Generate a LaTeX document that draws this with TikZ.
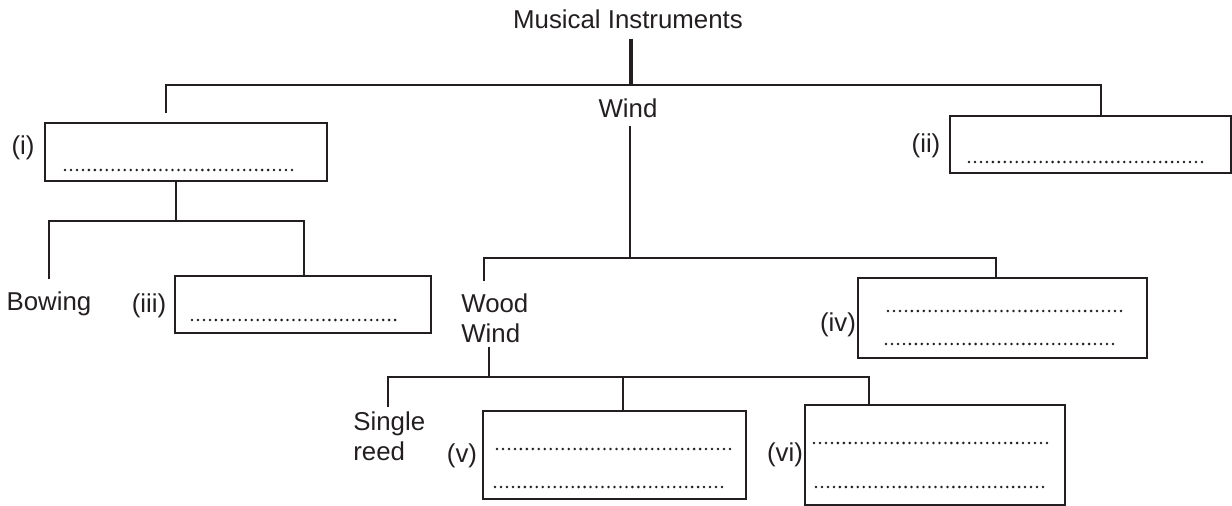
\documentclass[tikz,border=0pt]{standalone}
\usepackage{fontspec}
\setmainfont{Liberation Sans}
\usetikzlibrary{calc}
\definecolor{ink}{HTML}{231F20}
\begin{document}
\begin{tikzpicture}[x=0.02cm,y=-0.02cm,
  conn/.style={draw=ink,line width=1.2pt},
  heavy/.style={draw=ink,line width=2.8pt},
  bx/.style={draw=ink,line width=1.6pt,rectangle,inner sep=0pt,anchor=center},
  dotln/.style={draw=ink,line width=1.6pt,line cap=round,dash pattern=on 0pt off 3.4pt},
  lbl/.style={inner sep=0pt,text=ink,font=\fontsize{14.7pt}{17pt}\selectfont},
]
\useasboundingbox (0,0) rectangle (1232,506);

% boxes
\node[bx,minimum width=5.64cm,minimum height=1.16cm] (bi)   at (186,152)    {};
\node[bx,minimum width=5.62cm,minimum height=1.14cm] (bii)  at (1090.5,144.5) {};
\node[bx,minimum width=5.12cm,minimum height=1.14cm] (biii) at (303,304.5)  {};
\node[bx,minimum width=5.78cm,minimum height=1.60cm] (biv)  at (1002.5,318) {};
\node[bx,minimum width=5.26cm,minimum height=1.76cm] (bv)   at (614.5,455)  {};
\node[bx,minimum width=5.20cm,minimum height=2.00cm] (bvi)  at (935,455)    {};

% dotted answer lines
\draw[dotln] (65,170) -- (297,170);
\draw[dotln] (969,162) -- (1202,162);
\draw[dotln] (192,320) -- (396,320);
\draw[dotln] (888,311) -- (1121,311);
\draw[dotln] (886,344) -- (1118,344);
\draw[dotln] (497,449) -- (730,449);
\draw[dotln] (495,487) -- (727,487);
\draw[dotln] (814,443) -- (1047,443);
\draw[dotln] (816,487) -- (1048,487);

% labels
\node[lbl,anchor=base] (mi)   at (628,28.5)  {Musical Instruments};
\node[lbl,anchor=base] (wind) at (628,118)   {Wind};
\node[lbl,anchor=base] (li)   at (23,154.6)  {(i)};
\node[lbl,anchor=base] (lii)  at (926,152.6) {(ii)};
\node[lbl,anchor=base] (liii) at (149,313)   {(iii)};
\node[lbl,anchor=base] (liv)  at (838,331.6) {(iv)};
\node[lbl,anchor=base] (lv)   at (462,463)   {(v)};
\node[lbl,anchor=base] (lvi)  at (785,461.6) {(vi)};
\node[lbl,anchor=base] (bow)  at (49,311)    {Bowing};
\node[lbl,anchor=north west,align=left] (ww) at (461,293.4) {Wood\\Wind};
\node[lbl,anchor=north west,align=left] (sr) at (353,411.4) {Single\\reed};

% junction coordinates
\coordinate (mJ)  at (631,85);
\coordinate (tL)  at (166,85);
\coordinate (tR)  at (1101,85);
\coordinate (iJ)  at (176,221);
\coordinate (iL)  at (49,221);
\coordinate (iR)  at (304,221);
\coordinate (wJ)  at (630,258);
\coordinate (wL)  at (484,258);
\coordinate (wR)  at (996,258);
\coordinate (wwJ) at (489,377);
\coordinate (sL)  at (388,377);
\coordinate (vJ)  at (623,377);
\coordinate (sR)  at (869,377);

% connectors
\draw[heavy] ($(mi.south -| mJ)+(0,9.5)$) -- (mJ);
\draw[conn] ($(tL |- bi.north)+(0,-9)$) |- (tR) -- (tR |- bii.north);
\draw[conn] (iJ |- bi.south) -- (iJ);
\draw[conn] ($(iL |- bow.north)+(0,-12.5)$) |- (iR) -- (iR |- biii.north);
\draw[conn] ($(wind.south -| wJ)+(0,7)$) -- (wJ);
\draw[conn] ($(wL |- ww.north)+(0,-12)$) |- (wR) -- (wR |- biv.north);
\draw[conn] ($(ww.south -| wwJ)+(0,4)$) -- (wwJ);
\draw[conn] ($(sL |- sr.north)+(0,-4)$) |- (sR) -- (sR |- bvi.north);
\draw[conn] (vJ) -- (vJ |- bv.north);
\end{tikzpicture}
\end{document}
